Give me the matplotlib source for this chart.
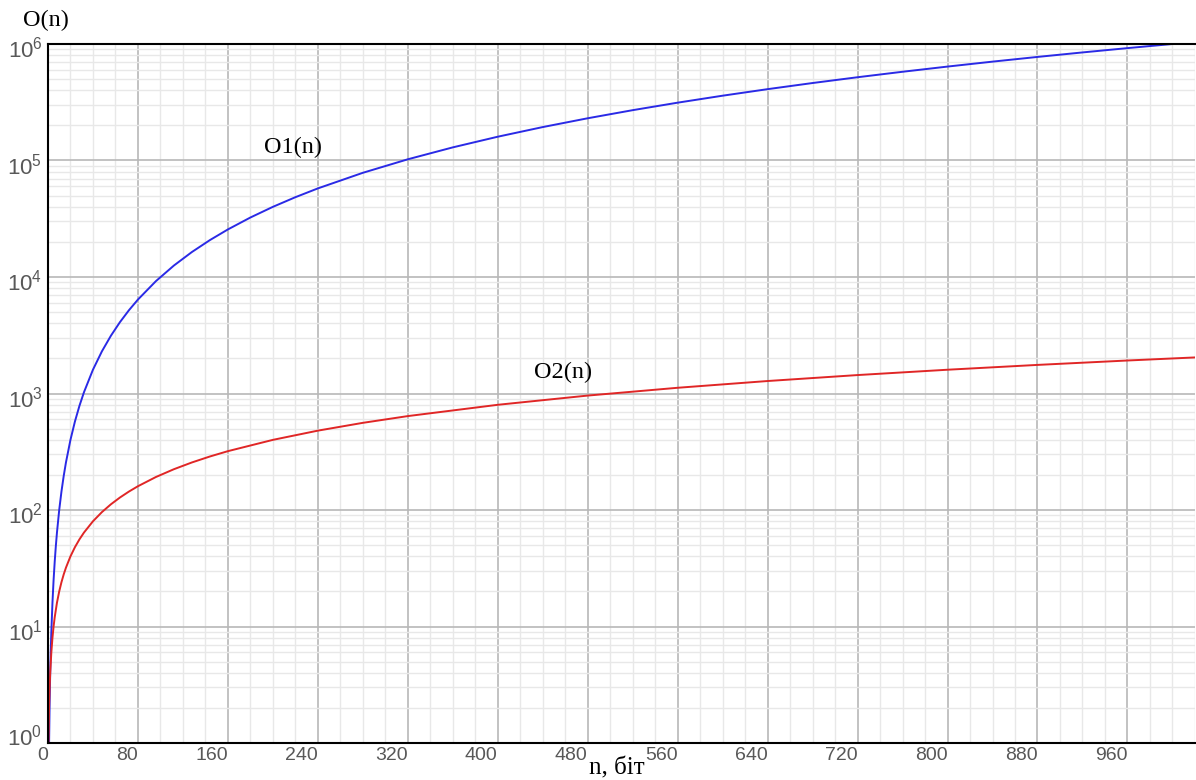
import matplotlib.pyplot as plt
from matplotlib.ticker import NullFormatter
from matplotlib.transforms import ScaledTranslation

# values
n1 = [1, 1.5, 2, 2.5, 3, 4, 5, 6, 7, 8, 10, 12, 14, 16, 20, 24, 28, 32, 40, 48,
      56, 64, 72, 80, 96, 112, 128, 144, 160, 180, 200, 220, 240, 280, 320, 360,
      400, 440, 480, 520, 560, 600, 640, 680, 720, 760, 800, 840, 880, 920, 960, 1000]
o1 = [1, 2.25, 4, 6.25, 9, 16, 25, 36, 49, 64, 100, 144, 196, 256, 400, 576, 784,
      1024, 1600, 2304, 3136, 4096, 5184, 6400, 9216, 12544, 16384, 20736, 25600,
      32400, 40000, 48400, 57600, 78400, 102400, 129600, 160000, 193600, 230400,
      270400, 313600, 360000, 409600, 462400, 518400, 577600, 640000, 705600,
      774400, 846400, 921600, 1000000]

n2 = [0.5, 1, 1.5, 2, 3, 4, 5, 6, 8, 10, 12, 14, 16, 20, 24, 28, 32, 40, 48, 56,
      64, 72, 80, 96, 112, 128, 144, 160, 200, 240, 280, 320, 400, 480, 560, 640,
      720, 800, 880, 960, 1020]
o2 = [1, 2, 3, 4, 6, 8, 10, 12, 16, 20, 24, 28, 32, 40, 48, 56, 64, 80, 96, 112,
      128, 144, 160, 192, 224, 256, 288, 320, 400, 480, 560, 640, 800, 960, 1120,
      1280, 1440, 1600, 1760, 1920, 2040]

x_ticks = [0, 80, 160, 240, 320, 400, 480, 560, 640, 720, 800, 880, 960]
y_ticks = [1, 10, 100, 1000, 10000, 100000, 1000000]

serif = ['Liberation Serif', 'DejaVu Serif']
sans = ['Liberation Sans', 'DejaVu Sans']

fig = plt.figure(figsize=(11.96, 7.8), dpi=100)
ax = fig.add_axes([0.0401, 0.0474, 0.959, 0.8962])

ax.plot(n1, o1, color='#2a2ae6', lw=1.4)
ax.plot(n2, o2, color='#e02626', lw=1.4)

ax.set_yscale('log')
ax.set_xlim(0, 1020)
ax.set_ylim(1, 1e6)

ax.set_xticks(x_ticks)
ax.set_xticks(range(0, 1021, 20), minor=True)
ax.set_yticks(y_ticks)
ax.set_yticks([m * d for d in y_ticks[:-1] for m in range(2, 10)], minor=True)
ax.yaxis.set_minor_formatter(NullFormatter())

ax.grid(which='major', color='#b8b8b8', lw=1.2)
ax.grid(which='minor', color='#e8e8e8', lw=1.0)
ax.set_axisbelow(True)

ax.tick_params(which='both', length=0)
ax.tick_params(axis='x', labelsize=14, labelcolor='#585858', pad=3)
ax.tick_params(axis='y', labelsize=16, labelcolor='#585858', pad=4)

# x labels sit left of their grid line, y labels hang below theirs
for lab in ax.get_xticklabels():
    lab.set_family(sans)
    lab.set_ha('right')
for val, lab in zip(y_ticks, ax.get_yticklabels()):
    lab.set_family(sans)
    if val > 1:
        lab.set_va('top')
        lab.set_transform(lab.get_transform() + ScaledTranslation(0, 5 / 72, fig.dpi_scale_trans))
    else:
        lab.set_va('baseline')
        lab.set_transform(lab.get_transform() + ScaledTranslation(0, -1.5 / 72, fig.dpi_scale_trans))

for side in ['left', 'bottom', 'top']:
    ax.spines[side].set_color('black')
    ax.spines[side].set_linewidth(1.5)
ax.spines['right'].set_visible(False)

ax.text(218, 10**5.116, 'O1(n)', family=serif, fontsize=17.5, ha='center', va='center')
ax.text(458, 10**3.185, 'O2(n)', family=serif, fontsize=17.5, ha='center', va='center')

fig.text(0.019, 0.974, 'O(n)', family=serif, fontsize=17.5, ha='left', va='center')
fig.text(0.516, 0.007, 'n, біт', family=serif, fontsize=18, ha='center', va='baseline')

fig.savefig('out.png', dpi=100)
